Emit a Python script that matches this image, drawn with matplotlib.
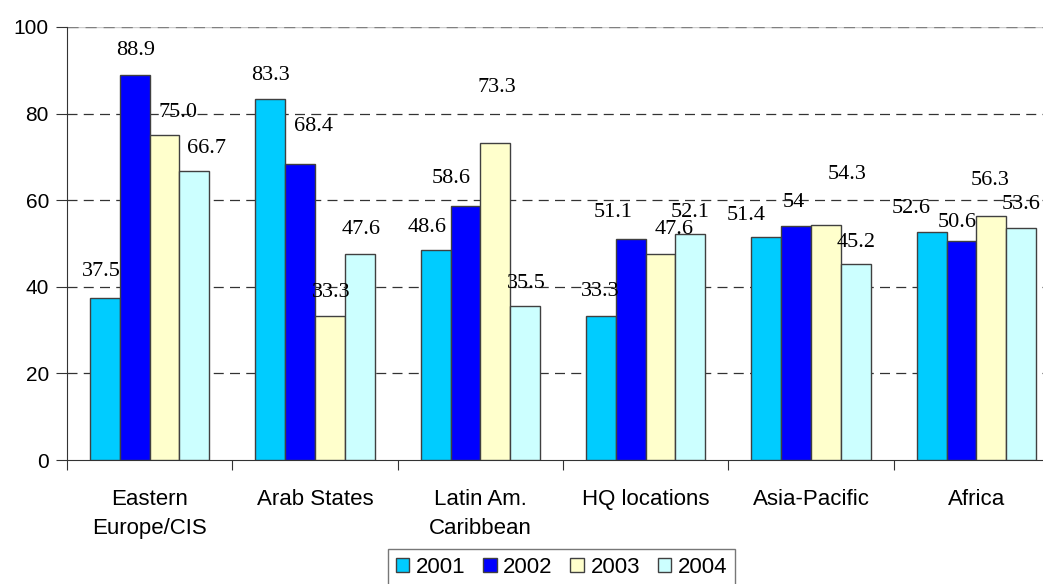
import numpy as np
import matplotlib
matplotlib.use("Agg")
import matplotlib.pyplot as plt
from matplotlib.patches import Patch

# ========= DATA =========
CATEGORIES = ["Eastern\nEurope/CIS", "Arab States", "Latin Am.\nCaribbean",
              "HQ locations", "Asia-Pacific", "Africa"]
YEARS = ["2001", "2002", "2003", "2004"]

V2001 = [37.5, 83.3, 48.6, 33.3, 51.4, 52.6]
V2002 = [88.9, 68.4, 58.6, 51.1, 54.0, 50.6]
V2003 = [75.0, 33.3, 73.3, 47.6, 54.3, 56.3]
V2004 = [66.7, 47.6, 35.5, 52.1, 45.2, 53.6]

LABELS = [
    ["37.5", "83.3", "48.6", "33.3", "51.4", "52.6"],
    ["88.9", "68.4", "58.6", "51.1", "54", "50.6"],
    ["75.0", "33.3", "73.3", "47.6", "54.3", "56.3"],
    ["66.7", "47.6", "35.5", "52.1", "45.2", "53.6"],
]
# ========================

# label offsets from bar top centre, in pixels (the labels sit a bit off like in the original)
LABEL_DX = [
    [-4, 0, -9, -1, -20, -21],
    [1, 13, -14, -18, -2, -4],
    [13, 1, 2, 14, 21, -1],
    [12, 1, 1, 0, 0, 0],
]
LABEL_DY = [
    [26, 24, 22, 24, 22, 24],
    [25, 37, 28, 26, 24, 18],
    [23, 23, 55, 24, 50, 36],
    [23, 24, 23, 22, 22, 23],
]

COLORS = ["#00CCFF", "#0000FF", "#FFFFCC", "#CCFFFF"]
EDGE = "#404040"


def main():
    series = [V2001, V2002, V2003, V2004]

    fig = plt.figure(figsize=(10.43, 5.84), dpi=100)
    W, H = 1043, 584
    # axes runs past the right edge, as in the cropped original
    ax = fig.add_axes([67 / W, (H - 460) / H, 992 / W, 433 / H])

    n = len(CATEGORIES)
    x = np.arange(n)
    bw = 0.18

    for i, vals in enumerate(series):
        pos = x + (i - 1.5) * bw
        ax.bar(pos, vals, width=bw, color=COLORS[i], edgecolor=EDGE,
               linewidth=1.0, zorder=3)
        for j, v in enumerate(vals):
            ax.annotate(LABELS[i][j], (pos[j], v),
                        xytext=(LABEL_DX[i][j], LABEL_DY[i][j]),
                        textcoords="offset pixels", ha="center", va="center",
                        fontsize=16, family="Liberation Serif", zorder=4)

    ax.set_xlim(-0.5, n - 0.5)
    ax.set_ylim(0, 100)

    # grid
    for y in [20, 40, 60, 80]:
        ax.axhline(y, color="#333333", linestyle=(0, (8, 5)), linewidth=0.9, zorder=1)
    ax.axhline(100, color="#cccccc", linewidth=1.0, zorder=1)
    ax.axhline(100, color="#808080", linestyle=(0, (8, 5)), linewidth=1.0, zorder=1)

    for s in ["top", "right"]:
        ax.spines[s].set_visible(False)
    ax.spines["left"].set_color("#333333")
    ax.spines["bottom"].set_color("#333333")

    ax.set_yticks([0, 20, 40, 60, 80, 100])
    ax.tick_params(axis="y", direction="out", length=8, color="#333333",
                   labelsize=15, pad=5)
    for t in ax.get_yticklabels():
        t.set_family("Liberation Sans")

    ax.set_xticks(np.arange(n + 1) - 0.5)
    ax.set_xticklabels([])
    ax.set_xticks(x, minor=True)
    ax.set_xticklabels(CATEGORIES, minor=True, fontsize=16, family="Liberation Sans",
                       linespacing=1.5)
    ax.tick_params(axis="x", which="major", direction="out", length=7, color="#333333")
    ax.tick_params(axis="x", which="minor", length=0, pad=21)

    handles = [Patch(facecolor=c, edgecolor=EDGE, linewidth=1.0) for c in COLORS]
    leg = fig.legend(handles, YEARS, loc="upper left",
                     bbox_to_anchor=(388 / W, 1 - 549 / H), ncol=4, borderaxespad=0,
                     frameon=True, fancybox=False, handlelength=0.6, handleheight=0.6,
                     handletextpad=0.3, columnspacing=0.8, borderpad=0.35,
                     prop={"family": "Liberation Sans", "size": 16})
    leg.get_frame().set_edgecolor("#555555")
    leg.get_frame().set_linewidth(1.0)

    fig.savefig("out.png", dpi=100)


if __name__ == "__main__":
    main()
